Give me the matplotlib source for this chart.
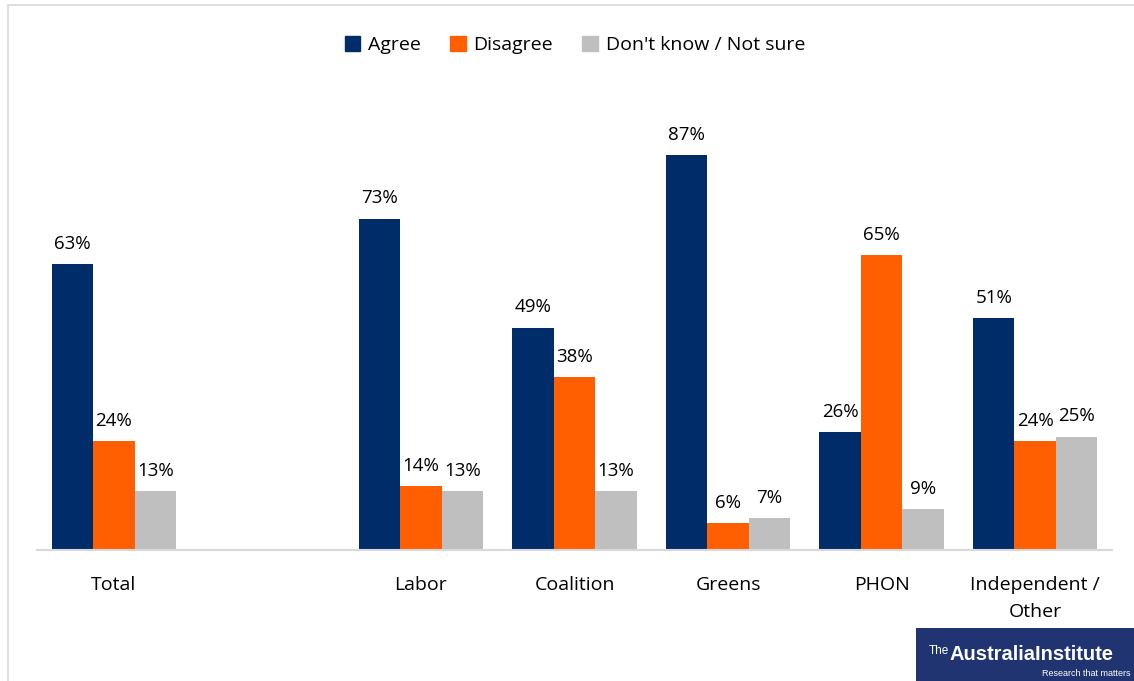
import numpy as np
import matplotlib.pyplot as plt
from matplotlib.patches import Rectangle, Patch

categories = ["Total", "", "Labor", "Coalition", "Greens", "PHON", "Independent /\nOther"]
agree = [63, None, 73, 49, 87, 26, 51]
disagree = [24, None, 14, 38, 6, 65, 24]
unsure = [13, None, 13, 13, 7, 9, 25]
series_names = ["Agree", "Disagree", "Don't know / Not sure"]
colors = ["#002D6A", "#FF5F00", "#BFBFBF"]

plt.rcParams['font.family'] = ['Open Sans', 'DejaVu Sans']

W, H = 1134, 681
fig = plt.figure(figsize=(W / 100, H / 100), dpi=100)
ax = fig.add_axes([37 / W, 1 - 550 / H, (1112 - 37) / W, (550 - 96) / H])

x = np.arange(len(categories))
bw = 0.27
for k, (vals, col) in enumerate(zip([agree, disagree, unsure], colors)):
    xs = [xi + (k - 1) * bw for xi, v in zip(x, vals) if v is not None]
    vs = [v for v in vals if v is not None]
    bars = ax.bar(xs, vs, bw, color=col, zorder=2)
    for b, v in zip(bars, vs):
        ax.annotate(f"{v}%", (b.get_x() + b.get_width() / 2, v),
                    xytext=(0, 8), textcoords="offset points",
                    ha="center", va="bottom", fontsize=13.5, color="black")

ax.set_xlim(-0.5, len(categories) - 0.5)
ax.set_ylim(0, 100)
ax.set_xticks(x)
ax.set_xticklabels(categories, fontsize=14, linespacing=1.6)
ax.tick_params(axis="x", length=0, pad=19)
ax.set_yticks([])
for s in ["top", "right", "left"]:
    ax.spines[s].set_visible(False)
ax.spines["bottom"].set_color("#D9D9D9")
ax.spines["bottom"].set_linewidth(1.5)

handles = [Patch(color=c) for c in colors]
fig.legend(handles, series_names, loc="center", bbox_to_anchor=(575 / W, 1 - 45 / H),
           ncol=3, frameon=False, fontsize=14, handlelength=0.8, handleheight=0.8,
           columnspacing=1.5, handletextpad=0.4)

# faint chart border
fig.add_artist(Rectangle((8 / W, -0.1), 1.2, 1 - 5 / H + 0.1, transform=fig.transFigure,
                         fill=False, edgecolor="#D9D9D9", lw=1.2))

# logo
fig.add_artist(Rectangle((916 / W, 0), (W - 916) / W, 53 / H, transform=fig.transFigure,
                         facecolor="#1F3470", edgecolor="none"))
fig.text(929 / W, 1 - 651 / H, "The", color="white", fontsize=8.5, ha="left", va="center",
         family="Liberation Sans")
fig.text(949 / W, 1 - 655 / H, "AustraliaInstitute", color="white", fontsize=14.5,
         ha="left", va="center", family="Liberation Sans", fontweight="bold")
fig.text(1131 / W, 1 - 674 / H, "Research that matters", color="white", fontsize=6.5,
         ha="right", va="center", family="Liberation Sans")

fig.savefig("out.png", dpi=100)
